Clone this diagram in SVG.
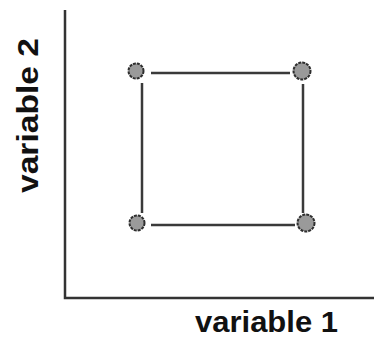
<svg xmlns="http://www.w3.org/2000/svg" width="374" height="338" viewBox="0 0 374 338">
<style>
.axis{stroke:#333;stroke-width:2.5;fill:none}
.edge{stroke:#3a3a3a;stroke-width:2.5;fill:none}
.pt{fill:#9a9a9a;stroke:#2e2e2e;stroke-width:2;stroke-dasharray:3 1}
.lbl{font-family:"Liberation Sans",Arial,sans-serif;font-weight:bold;font-size:30px;fill:#111}
</style>
<rect width="374" height="338" fill="#fff"/>
<g id="axes">
<path class="axis" d="M65,10 V298 H374"/>
</g>
<g id="connectors">
<line class="edge" x1="151" y1="73" x2="290" y2="73"/>
<line class="edge" x1="151" y1="225" x2="295" y2="225"/>
<line class="edge" x1="142" y1="83" x2="142" y2="213"/>
<line class="edge" x1="303" y1="84" x2="303" y2="213"/>
</g>
<g id="node-tl"><circle class="pt" cx="136" cy="71" r="7.5"/></g>
<g id="node-tr"><circle class="pt" cx="302" cy="71" r="8.5"/></g>
<g id="node-bl"><circle class="pt" cx="137" cy="223" r="7.5"/></g>
<g id="node-br"><circle class="pt" cx="306" cy="223" r="8.5"/></g>
<g id="label-x"><text class="lbl" x="195" y="332" textLength="143" lengthAdjust="spacingAndGlyphs">variable 1</text></g>
<g id="label-y"><text class="lbl" transform="translate(38,193) rotate(-90)" x="0" y="0" textLength="155" lengthAdjust="spacingAndGlyphs">variable 2</text></g>
</svg>
